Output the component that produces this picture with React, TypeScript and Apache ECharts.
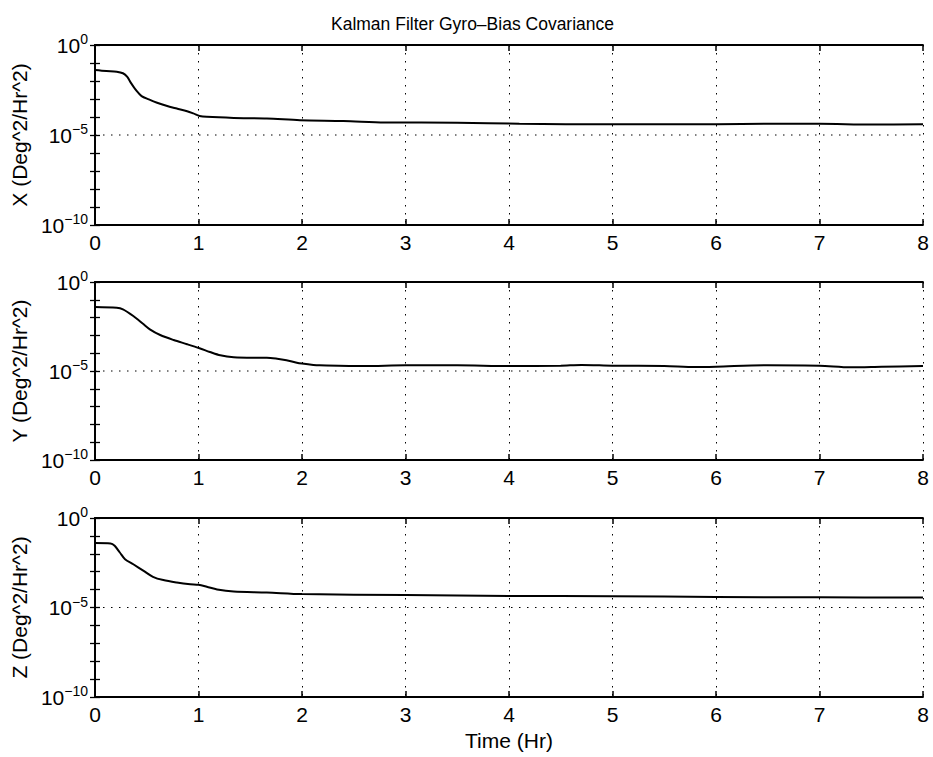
import React, { useEffect, useRef } from "react";
import * as echarts from "echarts";

const TITLE = "Kalman Filter Gyro–Bias Covariance";
const X_NAME = "Time (Hr)";
const Y_NAMES = ["X (Deg^2/Hr^2)", "Y (Deg^2/Hr^2)", "Z (Deg^2/Hr^2)"];
const X_TICKS = [0, 1, 2, 3, 4, 5, 6, 7, 8];
const Y_TICK_VALUES = [1e-10, 1e-9, 1e-8, 1e-7, 1e-6, 1e-5, 1e-4, 1e-3, 1e-2, 1e-1, 1];
const Y_LABEL_VALUES = [1e-10, 1e-5, 1];
const REF_LINE_T = [0, 8];
const REF_LINE_V = [1e-5, 1e-5];

const timeX = [0, 0.11, 0.21, 0.27, 0.31, 0.35, 0.4, 0.45, 0.52, 0.6, 0.69, 0.79, 0.89, 0.95, 1.01, 1.08, 1.34, 1.66, 1.98, 2.4, 2.8, 3.5, 4.1, 5.0, 6.0, 6.5, 7.0, 7.5, 8.0];
const covX = [4.1e-2, 3.6e-2, 3.3e-2, 2.7e-2, 1.74e-2, 7.4e-3, 2.9e-3, 1.45e-3, 9.5e-4, 6.2e-4, 4.2e-4, 2.95e-4, 2.1e-4, 1.58e-4, 1.15e-4, 1.02e-4, 8.9e-5, 8.3e-5, 6.6e-5, 6.0e-5, 5.0e-5, 4.8e-5, 4.2e-5, 3.9e-5, 4.0e-5, 4.2e-5, 4.2e-5, 3.8e-5, 3.9e-5];

const timeY = [0, 0.21, 0.27, 0.37, 0.47, 0.53, 0.63, 0.76, 0.89, 1.01, 1.11, 1.21, 1.34, 1.53, 1.66, 1.76, 1.85, 1.95, 2.0, 2.11, 2.17, 2.6, 3.0, 3.5, 4.0, 4.5, 4.7, 5.0, 5.5, 5.8, 6.0, 6.5, 7.0, 7.3, 7.6, 8.0];
const covY = [4.0e-2, 3.6e-2, 2.9e-2, 1.23e-2, 4.2e-3, 2.2e-3, 1.05e-3, 5.5e-4, 3.2e-4, 1.9e-4, 1.17e-4, 7.6e-5, 5.9e-5, 5.6e-5, 5.6e-5, 4.9e-5, 4.0e-5, 2.9e-5, 2.6e-5, 2.2e-5, 2.1e-5, 1.9e-5, 2.1e-5, 2.1e-5, 1.9e-5, 2.0e-5, 2.2e-5, 2.0e-5, 1.9e-5, 1.66e-5, 1.74e-5, 2.1e-5, 2.0e-5, 1.62e-5, 1.74e-5, 1.9e-5];

const timeZ = [0, 0.15, 0.19, 0.24, 0.29, 0.37, 0.47, 0.56, 0.66, 0.79, 0.92, 1.0, 1.08, 1.18, 1.34, 1.66, 2.0, 3.0, 4.0, 5.0, 6.0, 7.0, 8.0];
const covZ = [4.0e-2, 3.8e-2, 2.8e-2, 1.18e-2, 5.0e-3, 2.6e-3, 1.12e-3, 5.2e-4, 3.4e-4, 2.5e-4, 2.0e-4, 1.86e-4, 1.45e-4, 1.02e-4, 7.8e-5, 6.9e-5, 5.6e-5, 5.0e-5, 4.4e-5, 4.3e-5, 3.9e-5, 3.7e-5, 3.6e-5];

const SERIES_T = [timeX, timeY, timeZ];
const SERIES_V = [covX, covY, covZ];

const FONT = "'Liberation Sans', Arial, Helvetica, sans-serif";
const GRID_TOPS = [45, 282, 518];
const GRID_HEIGHTS = [180, 178, 179];

export default function App() {
  const ref = useRef<HTMLDivElement>(null);
  useEffect(() => {
    if (!ref.current) return;
    const chart = echarts.init(ref.current, null, { renderer: "svg" });
    const dotted = { color: "#000", width: 1, type: [1.5, 6.5] as any };
    const grids: any[] = [];
    const xAxes: any[] = [];
    const yAxes: any[] = [];
    const series: any[] = [];
    for (let i = 0; i < 3; i++) {
      grids.push({ left: 95, top: GRID_TOPS[i], width: 828, height: GRID_HEIGHTS[i], show: false });
      xAxes.push({
        type: "value",
        gridIndex: i,
        position: "bottom",
        min: 0,
        max: 8,
        interval: 1,
        axisLine: { show: true, lineStyle: { color: "#000", width: 1.8 } },
        axisTick: { show: true, inside: true, length: 6, lineStyle: { color: "#000", width: 1.5 } },
        axisLabel: {
          show: true,
          margin: 7,
          color: "#000",
          fontSize: 21,
          fontFamily: FONT,
          customValues: X_TICKS,
        },
        splitLine: { show: true, lineStyle: dotted },
        name: i === 2 ? X_NAME : "",
        nameLocation: "middle",
        nameGap: 33,
        nameTextStyle: { color: "#000", fontSize: 21, fontFamily: FONT },
      });
      xAxes.push({
        type: "value",
        gridIndex: i,
        position: "top",
        min: 0,
        max: 8,
        interval: 1,
        axisLine: { show: true, lineStyle: { color: "#000", width: 1.8 } },
        axisTick: { show: true, inside: true, length: 6, lineStyle: { color: "#000", width: 1.5 } },
        axisLabel: { show: false },
        splitLine: { show: false },
      });
      yAxes.push({
        type: "log",
        logBase: 10,
        gridIndex: i,
        position: "left",
        min: 1e-10,
        max: 1,
        axisLine: { show: true, lineStyle: { color: "#000", width: 1.8 } },
        axisTick: { show: true, inside: true, length: 5, customValues: Y_TICK_VALUES, lineStyle: { color: "#000", width: 1.3 } },
        axisLabel: {
          show: true,
          margin: 7,
          customValues: Y_LABEL_VALUES,
          formatter: (v: number) => {
            const e = Math.round(Math.log10(v));
            return `{b|10}{s|${e === 0 ? "0" : "−" + Math.abs(e)}}`;
          },
          rich: {
            b: { fontSize: 21, color: "#000", fontFamily: FONT },
            s: { fontSize: 14, color: "#000", fontFamily: FONT, padding: [0, 0, 12, 0] },
          },
        },
        splitLine: { show: false },
        name: Y_NAMES[i],
        nameLocation: "middle",
        nameGap: 57,
        nameTextStyle: { color: "#000", fontSize: 21, fontFamily: FONT },
      });
      yAxes.push({
        type: "log",
        logBase: 10,
        gridIndex: i,
        position: "right",
        min: 1e-10,
        max: 1,
        axisLine: { show: true, lineStyle: { color: "#000", width: 1.8 } },
        axisTick: { show: true, inside: true, length: 5, customValues: Y_TICK_VALUES, lineStyle: { color: "#000", width: 1.3 } },
        axisLabel: { show: false },
        splitLine: { show: false },
      });
      series.push({
        type: "line",
        xAxisIndex: 2 * i,
        yAxisIndex: 2 * i,
        data: REF_LINE_T.map((t, k) => [t, REF_LINE_V[k]]),
        showSymbol: false,
        symbol: "none",
        silent: true,
        lineStyle: dotted,
        z: 3,
      });
      const ts = SERIES_T[i];
      const vs = SERIES_V[i];
      series.push({
        type: "line",
        xAxisIndex: 2 * i,
        yAxisIndex: 2 * i,
        data: ts.map((t, k) => [t, vs[k]]),
        showSymbol: false,
        symbol: "none",
        smooth: 0.3,
        lineStyle: { color: "#000", width: 2 },
        z: 5,
      });
    }
    chart.setOption({
      animation: false,
      backgroundColor: "#fff",
      title: {
        text: TITLE,
        left: 326,
        top: 10,
        textStyle: { color: "#000", fontSize: 17.5, fontWeight: "normal", fontFamily: FONT },
      },
      grid: grids,
      xAxis: xAxes,
      yAxis: yAxes,
      series,
    });
    return () => chart.dispose();
  }, []);
  return (
    <div
      ref={ref}
      style={{ position: "absolute", left: 0, top: 0, width: 933, height: 757, background: "#fff" }}
    />
  );
}
